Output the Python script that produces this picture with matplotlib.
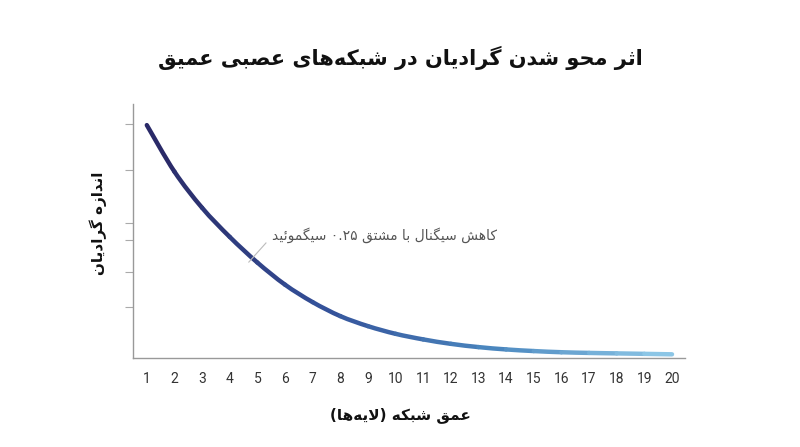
import re
import numpy as np
import matplotlib
matplotlib.use("Agg")
import matplotlib.pyplot as plt
from matplotlib.path import Path
from matplotlib.patches import PathPatch
from matplotlib.colors import LinearSegmentedColormap

# data (relative gradient size per layer)
layers = list(range(1, 21))
grad = [1.00, 0.80, 0.645, 0.52, 0.41, 0.315, 0.24, 0.18, 0.137, 0.104,
        0.080, 0.061, 0.047, 0.037, 0.030, 0.025, 0.022, 0.020, 0.018, 0.016]
ytick_vals = [1.004, 0.807, 0.579, 0.506, 0.369, 0.219]

title = "اثر محو شدن گرادیان در شبکه‌های عصبی عمیق"
xlabel = "عمق شبکه (لایه‌ها)"
ylabel = "اندازه گرادیان"
note = "کاهش سیگنال با مشتق ۰.۲۵ سیگموئید"

# --- tiny persian shaper (matplotlib does no arabic shaping) ---
FORMS = {
    'ا': ('\uFE8D', '\uFE8E', None, None),
    'ب': ('\uFE8F', '\uFE90', '\uFE91', '\uFE92'),
    'ت': ('\uFE95', '\uFE96', '\uFE97', '\uFE98'),
    'ث': ('\uFE99', '\uFE9A', '\uFE9B', '\uFE9C'),
    'ح': ('\uFEA1', '\uFEA2', '\uFEA3', '\uFEA4'),
    'د': ('\uFEA9', '\uFEAA', None, None),
    'ر': ('\uFEAD', '\uFEAE', None, None),
    'ز': ('\uFEAF', '\uFEB0', None, None),
    'س': ('\uFEB1', '\uFEB2', '\uFEB3', '\uFEB4'),
    'ش': ('\uFEB5', '\uFEB6', '\uFEB7', '\uFEB8'),
    'ص': ('\uFEB9', '\uFEBA', '\uFEBB', '\uFEBC'),
    'ع': ('\uFEC9', '\uFECA', '\uFECB', '\uFECC'),
    'ق': ('\uFED5', '\uFED6', '\uFED7', '\uFED8'),
    'ل': ('\uFEDD', '\uFEDE', '\uFEDF', '\uFEE0'),
    'م': ('\uFEE1', '\uFEE2', '\uFEE3', '\uFEE4'),
    'ن': ('\uFEE5', '\uFEE6', '\uFEE7', '\uFEE8'),
    'ه': ('\uFEE9', '\uFEEA', '\uFEEB', '\uFEEC'),
    'و': ('\uFEED', '\uFEEE', None, None),
    'ئ': ('\uFE89', '\uFE8A', '\uFE8B', '\uFE8C'),
    'ک': ('\uFB8E', '\uFB8F', '\uFB90', '\uFB91'),
    'گ': ('\uFB92', '\uFB93', '\uFB94', '\uFB95'),
    'ی': ('\uFBFC', '\uFBFD', '\uFBFE', '\uFBFF'),
}


def dual(c):
    return c in FORMS and FORMS[c][2] is not None


def shape(text):
    out = []
    i = 0
    n = len(text)
    while i < n:
        c = text[i]
        if c not in FORMS:
            if c != '\u200c':
                out.append(c)
            i += 1
            continue
        link_prev = i > 0 and dual(text[i - 1])
        if c == 'ل' and i + 1 < n and text[i + 1] == 'ا':
            out.append('\uFEFC' if link_prev else '\uFEFB')
            i += 2
            continue
        link_next = dual(c) and i + 1 < n and text[i + 1] in FORMS
        iso, fin, ini, med = FORMS[c]
        if link_prev and link_next:
            g = med
        elif link_prev:
            g = fin
        elif link_next:
            g = ini
        else:
            g = iso
        out.append(g)
        i += 1
    return ''.join(out)


NUM = r'([0-9\u06F0-\u06F9]+(?:\.[0-9\u06F0-\u06F9]+)*)'
MIRROR = str.maketrans('()', ')(')


def fa(text):
    s = shape(text)
    parts = re.split(NUM, s)
    out = []
    for p in reversed(parts):
        if re.fullmatch(NUM, p):
            out.append(p)
        else:
            out.append(p[::-1].translate(MIRROR))
    return ''.join(out)


FA_FONT = ['DejaVu Sans']

fig = plt.figure(figsize=(8, 4.47), dpi=100)
ax = fig.add_axes([0.16625, 0.199, 0.69, 0.568])

cmap = LinearSegmentedColormap.from_list(
    "grad", ['#2a2a68', '#34529a', '#4a86be', '#8cc6e6'])

# smooth curve: each gap drawn as a cubic bezier (catmull-rom handles)
P = np.column_stack([layers, grad]).astype(float)
n = len(P)
for i in range(n - 1):
    p0 = P[max(i - 1, 0)]
    p1 = P[i]
    p2 = P[i + 1]
    p3 = P[min(i + 2, n - 1)]
    c1 = p1 + (p2 - p0) / 6.0
    c2 = p2 - (p3 - p1) / 6.0
    path = Path([p1, c1, c2, p2],
                [Path.MOVETO, Path.CURVE4, Path.CURVE4, Path.CURVE4])
    patch = PathPatch(path, fill=False, edgecolor=cmap(i / (n - 2)),
                      lw=3.2, capstyle='round', joinstyle='round')
    ax.add_patch(patch)

ax.set_xlim(0.5, 20.47)
ax.set_ylim(0, 1.09)
ax.set_xticks(layers)
ax.set_xticklabels([str(v) for v in layers], fontfamily='Roboto',
                   fontsize=10, color='#333333')
ax.tick_params(axis='x', length=0, pad=10)
ax.set_yticks(ytick_vals)
ax.set_yticklabels([])
ax.tick_params(axis='y', length=6, width=0.8, color='#aaaaaa')

for s in ['top', 'right']:
    ax.spines[s].set_visible(False)
for s in ['left', 'bottom']:
    ax.spines[s].set_color('#999999')
    ax.spines[s].set_linewidth(1.0)

fig.text(0.5, 0.87, fa(title), ha='center', va='center', fontsize=15,
         fontweight='bold', family=FA_FONT, color='#111111')
fig.text(0.5, 0.072, fa(xlabel), ha='center', va='center', fontsize=11,
         fontweight='bold', family=FA_FONT, color='#111111')
fig.text(0.123, 0.50, fa(ylabel), ha='center', va='center', fontsize=11,
         fontweight='bold', family=FA_FONT, color='#111111', rotation=90)

# callout
ax.plot([4.69, 5.31], [0.412, 0.494], color='#bbbbbb', lw=0.8)
ax.text(5.52, 0.528, fa(note), fontsize=10, family=FA_FONT,
        color='#555555', ha='left', va='center')

fig.savefig("out.png", dpi=100)
